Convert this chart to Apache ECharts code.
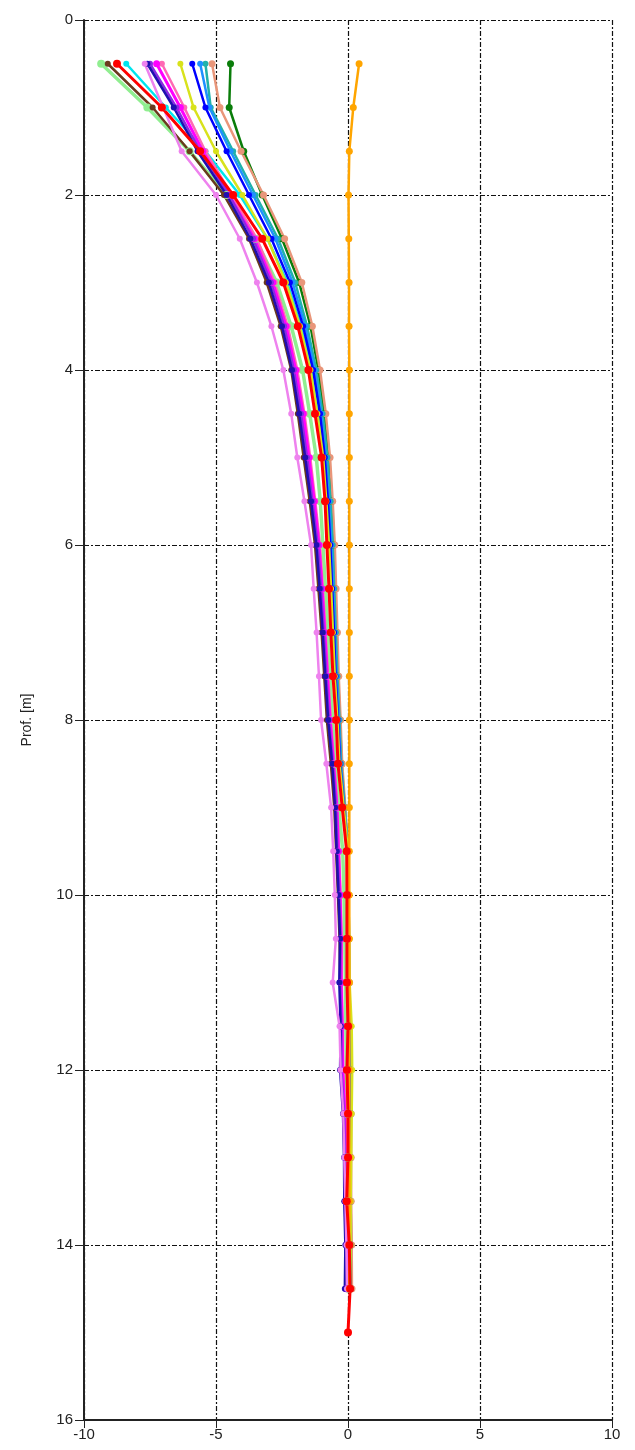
<!DOCTYPE html>
<html><head><meta charset="utf-8">
<script src="https://cdn.jsdelivr.net/npm/echarts@6/dist/echarts.min.js"></script>
<style>html,body{margin:0;padding:0;background:#fff}#c{width:635px;height:1450px}</style>
</head><body><div id="c"></div>
<script>
const depths = [0.5,1,1.5,2,2.5,3,3.5,4,4.5,5,5.5,6,6.5,7,7.5,8,8.5,9,9.5,10,10.5,11,11.5,12,12.5,13,13.5,14,14.5,15];
const xTicks = [-10,-5,0,5,10];
const yTicks = [0,2,4,6,8,10,12,14,16];

const palegreenVals = [-9.35,-7.6,-6.0,-4.6,-3.5,-2.7,-2.15,-1.72,-1.45,-1.2,-1.05,-0.95,-0.85,-0.76,-0.68,-0.58,-0.48,-0.35,-0.2,-0.15,-0.12,-0.1,-0.08,-0.06,-0.04,-0.03,-0.02,0,0];
const brownVals = [-9.1,-7.4,-6.0,-4.7,-3.75,-3.08,-2.55,-2.15,-1.9,-1.68,-1.45,-1.25,-1.12,-1.0,-0.9,-0.8,-0.65,-0.52,-0.45,-0.38,-0.32,-0.3,-0.26,-0.22,-0.18,-0.12,-0.1,-0.05,-0.03];
const cyanVals = [-8.4,-6.9,-5.4,-4.1,-3.05,-2.3,-1.78,-1.38,-1.12,-0.92,-0.8,-0.7,-0.63,-0.56,-0.5,-0.4,-0.32,-0.18,-0.04,0,0.02,0.02,0.04,0.04,0.06,0.06,0.06,0.08,0.1];
const violetVals = [-7.7,-7.0,-6.3,-5.0,-4.1,-3.45,-2.9,-2.45,-2.15,-1.92,-1.65,-1.4,-1.3,-1.19,-1.1,-1.02,-0.82,-0.64,-0.56,-0.5,-0.46,-0.58,-0.32,-0.28,-0.18,-0.14,-0.1,-0.06,-0.04];
const navyVals = [-7.6,-6.6,-5.7,-4.6,-3.7,-3.0,-2.5,-2.12,-1.85,-1.62,-1.4,-1.2,-1.07,-0.96,-0.86,-0.75,-0.6,-0.49,-0.43,-0.36,-0.3,-0.33,-0.28,-0.3,-0.19,-0.15,-0.14,-0.1,-0.12];
const purpleVals = [-7.5,-6.5,-5.6,-4.5,-3.6,-2.92,-2.42,-2.05,-1.78,-1.55,-1.35,-1.15,-1.02,-0.92,-0.82,-0.72,-0.57,-0.45,-0.4,-0.33,-0.28,-0.3,-0.25,-0.25,-0.15,-0.12,-0.12,-0.08,-0.1];
const magentaVals = [-7.25,-6.35,-5.5,-4.5,-3.55,-2.85,-2.35,-1.98,-1.7,-1.48,-1.28,-1.1,-0.98,-0.88,-0.78,-0.68,-0.55,-0.42,-0.36,-0.3,-0.26,-0.26,-0.22,-0.2,-0.12,-0.1,-0.1,-0.06,-0.06];
const hotpinkVals = [-7.05,-6.2,-5.4,-4.4,-3.45,-2.78,-2.28,-1.92,-1.65,-1.43,-1.24,-1.06,-0.95,-0.85,-0.75,-0.65,-0.52,-0.4,-0.34,-0.28,-0.24,-0.24,-0.2,-0.18,-0.1,-0.08,-0.08,-0.05,-0.05];
const yellowVals = [-6.35,-5.85,-5.0,-4.0,-3.05,-2.35,-1.82,-1.42,-1.16,-0.94,-0.82,-0.72,-0.64,-0.57,-0.5,-0.4,-0.32,-0.16,0,0.02,0.04,0.06,0.14,0.16,0.14,0.12,0.1,0.1,0.08];
const blueVals = [-5.9,-5.4,-4.6,-3.75,-2.9,-2.2,-1.7,-1.32,-1.06,-0.88,-0.76,-0.67,-0.6,-0.53,-0.47,-0.38,-0.3,-0.16,-0.02,0,0,0.02,0.04,0.04,0.06,0.05,0.05,0.06,0.08];
const dodgerVals = [-5.6,-5.25,-4.45,-3.6,-2.75,-2.1,-1.62,-1.26,-1.02,-0.84,-0.72,-0.63,-0.56,-0.5,-0.44,-0.35,-0.28,-0.14,0,0.02,0.02,0.04,0.06,0.06,0.06,0.06,0.06,0.08,0.08];
const tealVals = [-5.4,-5.2,-4.35,-3.5,-2.65,-2.0,-1.55,-1.2,-0.96,-0.78,-0.66,-0.58,-0.52,-0.46,-0.4,-0.32,-0.26,-0.12,0,0.02,0.04,0.04,0.06,0.08,0.08,0.08,0.08,0.1,0.1];
const salmonVals = [-5.15,-4.85,-4.05,-3.2,-2.4,-1.75,-1.35,-1.06,-0.84,-0.68,-0.58,-0.5,-0.45,-0.4,-0.35,-0.28,-0.22,-0.1,0,0.02,0.04,0.06,0.08,0.1,0.12,0.12,0.12,0.14,0.15];
const greenVals = [-4.45,-4.5,-3.95,-3.25,-2.5,-1.85,-1.42,-1.12,-0.9,-0.74,-0.62,-0.54,-0.48,-0.43,-0.38,-0.3,-0.24,-0.12,-0.01,0.01,0.03,0.04,0.06,0.08,0.1,0.1,0.1,0.12,0.12];
const orangeVals = [0.42,0.2,0.05,0.02,0.03,0.04,0.04,0.05,0.05,0.05,0.05,0.05,0.05,0.05,0.05,0.05,0.05,0.05,0.05,0.05,0.05,0.05,0.05,0.05,0.05,0.05,0.05,0.05,0.05];
const redVals = [-8.75,-7.05,-5.6,-4.35,-3.25,-2.45,-1.9,-1.5,-1.25,-1.0,-0.87,-0.8,-0.72,-0.65,-0.57,-0.45,-0.38,-0.22,-0.05,-0.04,-0.04,-0.04,0,-0.04,0,0,-0.05,0.05,0.08,0];

const seriesDefs = [
  ['palegreen', palegreenVals, '#90ee90', 3.5, 8],
  ['brown', brownVals, '#6b3a1e', 2.5, 6],
  ['cyan', cyanVals, '#00e5ee', 2.5, 6],
  ['green', greenVals, '#0a7d0a', 2.5, 7],
  ['salmon', salmonVals, '#e9967a', 2.5, 7],
  ['teal', tealVals, '#20b2aa', 2.5, 6],
  ['dodger', dodgerVals, '#1e90ff', 2.5, 6],
  ['blue', blueVals, '#0000ff', 2.5, 6],
  ['yellow', yellowVals, '#d8e21c', 2.5, 6],
  ['hotpink', hotpinkVals, '#ff69b4', 2.5, 6],
  ['magenta', magentaVals, '#ff00ff', 3, 7],
  ['purple', purpleVals, '#8a2be2', 2.5, 6],
  ['navy', navyVals, '#1f0fb0', 2.5, 6],
  ['violet', violetVals, '#ee82ee', 2.5, 6],
  ['orange', orangeVals, '#ffa500', 2.5, 7],
  ['red', redVals, '#ff0000', 3, 8]
];

const series = seriesDefs.map(function(d){
  return {
    name: d[0], type: 'line', symbol: 'circle', symbolSize: d[4],
    data: d[1].map(function(v,i){ return [v, depths[i]]; }),
    lineStyle: {color: d[2], width: d[3]},
    itemStyle: {color: d[2]},
    animation: false, z: 3
  };
});

const grid = {type: [5,2,2,2], color: '#111', width: 1.2};
const chart = echarts.init(document.getElementById('c'));
chart.setOption({
  backgroundColor: '#fff',
  animation: false,
  grid: {left: 84, right: 23, top: 20, bottom: 30, show: false},
  xAxis: {
    type: 'value', min: -10, max: 10, interval: 5,
    axisLine: {show: true, onZero: false, lineStyle: {color: '#222', width: 2}},
    axisTick: {show: true, length: 8, lineStyle: {color: '#222', width: 1}},
    axisLabel: {color: '#222', fontSize: 15, fontFamily: 'Liberation Sans', margin: 7,
      formatter: function(v){ return xTicks.indexOf(v) >= 0 ? String(v) : ''; }},
    splitLine: {show: true, lineStyle: grid}
  },
  yAxis: {
    type: 'value', min: 0, max: 16, interval: 2, inverse: true,
    name: 'Prof. [m]', nameLocation: 'middle', nameGap: 50, nameRotate: 90,
    nameTextStyle: {color: '#222', fontSize: 14, fontFamily: 'Liberation Sans'},
    axisLine: {show: true, onZero: false, lineStyle: {color: '#222', width: 2}},
    axisTick: {show: true, length: 9, lineStyle: {color: '#222', width: 1}},
    axisLabel: {color: '#222', fontSize: 15, fontFamily: 'Liberation Sans', margin: 11,
      formatter: function(v){ return yTicks.indexOf(v) >= 0 ? String(v) : ''; }},
    splitLine: {show: true, lineStyle: grid}
  },
  series: series
});
</script></body></html>
